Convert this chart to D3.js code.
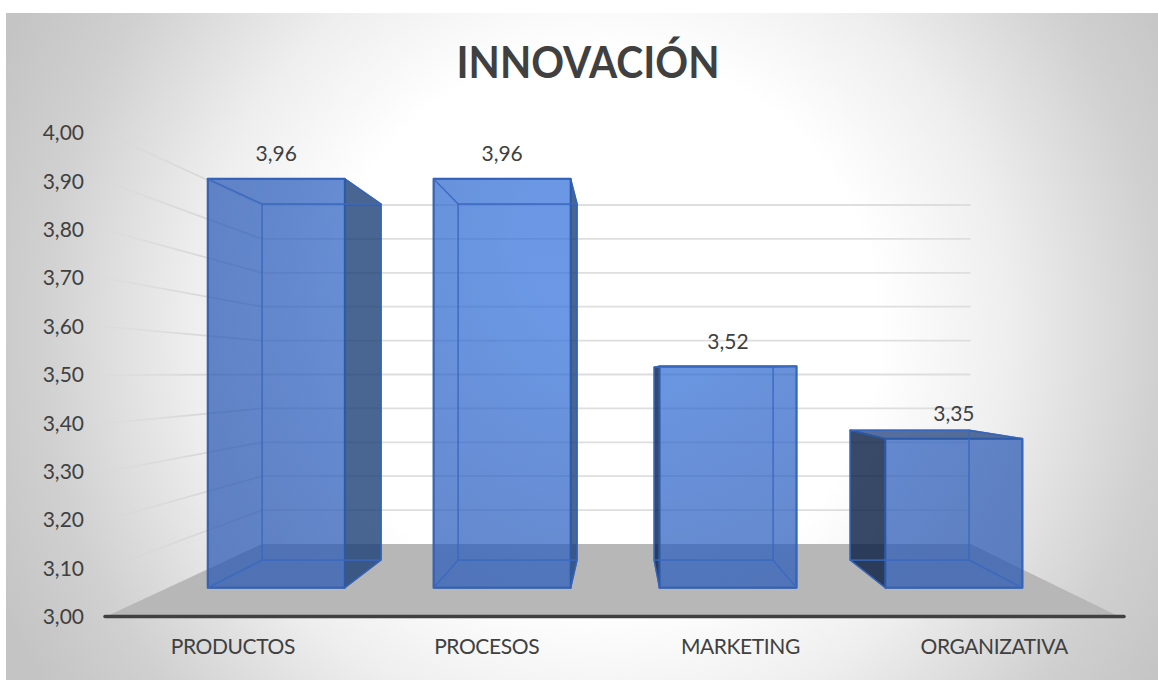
<!DOCTYPE html>
<html>
<head>
<meta charset="utf-8">
<style>
  html, body { margin: 0; padding: 0; background: #fff; }
  svg { display: block; }
  text { font-family: Lato, "Open Sans", sans-serif; }
</style>
<script src="https://cdn.jsdelivr.net/npm/d3@7"></script>
</head>
<body>
<svg id="chart" width="1158" height="680"></svg>
<script>
const chartTitle = "INNOVACIÓN";
const categories = ["PRODUCTOS", "PROCESOS", "MARKETING", "ORGANIZATIVA"];
const values = [3.96, 3.96, 3.52, 3.35];
const valueDomain = [3, 4];
const valueTicks = [3, 3.1, 3.2, 3.3, 3.4, 3.5, 3.6, 3.7, 3.8, 3.9, 4];

const svg = d3.select("#chart");
const es = d3.formatLocale({ decimal: ",", thousands: ".", grouping: [3], currency: ["", " €"] });
const fmt = es.format(".2f");

// Box of the 3D plot: front edge and back edge of the floor, in screen space.
const front = { left: 105, right: 1120, floor: 617, top: 133 };
const back  = { left: 262, right: 967,  floor: 544, top: 205 };
const barDepth = { near: 0.40, far: 0.78 };
const wallOverhang = 1.005; // floor and gridlines run slightly past the last bar plane

const lerp = d3.interpolateNumber;
const frontY = d3.scaleLinear().domain(valueDomain).range([front.floor, front.top]);
const backY  = d3.scaleLinear().domain(valueDomain).range([back.floor, back.top]);
const frontX = d3.scaleBand().domain(categories).range([front.left + 1, front.right + 1]);
const band01 = d3.scaleBand().domain(categories).range([-0.005, 1.009]).paddingInner(0.393).paddingOuter(0.1965);

// Projects (fraction across, value, depth) to the screen.
function project(u, v, d) {
  const xl = lerp(front.left, back.left)(d);
  const xr = lerp(front.right, back.right)(d);
  return [lerp(xl, xr)(u), lerp(frontY(v), backY(v))(d)];
}

const defs = svg.append("defs");
const bg = defs.append("radialGradient").attr("id", "bgGrad")
  .attr("gradientUnits", "userSpaceOnUse")
  .attr("cx", 600).attr("cy", 330).attr("r", 660);
[[0, "#ffffff"], [0.42, "#ffffff"], [0.62, "#eeeeee"], [0.85, "#d0d0d0"], [1, "#c4c4c4"]]
  .forEach(([o, c]) => bg.append("stop").attr("offset", o).attr("stop-color", c));

// Front faces read lighter toward the middle of the plot
const faceGrad = defs.append("radialGradient").attr("id", "faceGrad")
  .attr("gradientUnits", "userSpaceOnUse")
  .attr("cx", 620).attr("cy", 250).attr("r", 450);
[[0.2, "#3270da"], [0.75, "#2a5cbc"], [1, "#2858b4"]]
  .forEach(([o, c]) => faceGrad.append("stop").attr("offset", o).attr("stop-color", c));

function fadeGrad(id, y1, y2) {
  const g = defs.append("linearGradient").attr("id", id)
    .attr("gradientUnits", "userSpaceOnUse")
    .attr("x1", front.left).attr("y1", y1).attr("x2", back.left).attr("y2", y2);
  g.append("stop").attr("offset", 0).attr("stop-color", "#d6d6d6").attr("stop-opacity", 0.2);
  g.append("stop").attr("offset", 0.6).attr("stop-color", "#d6d6d6").attr("stop-opacity", 0.9);
  g.append("stop").attr("offset", 1).attr("stop-color", "#d9d9d9").attr("stop-opacity", 1);
}

// Chart area
svg.append("rect")
  .attr("x", 6).attr("y", 13).attr("width", 1152).attr("height", 667)
  .attr("fill", "url(#bgGrad)");

// Title
svg.append("text").text(chartTitle)
  .attr("x", 588).attr("y", 78).attr("text-anchor", "middle")
  .attr("font-size", 44).attr("font-weight", 700).attr("fill", "#404040")
  .attr("textLength", 263).attr("lengthAdjust", "spacingAndGlyphs");

// Floor
const line = d3.line();
const floorPts = [project(0, 3, 0), project(1, 3, 0), project(wallOverhang, 3, 1), project(0, 3, 1)];
svg.append("path").attr("d", line(floorPts) + "Z").attr("fill", "#b7b7b7");

// Gridlines: on the left wall, then along the back wall
const grid = svg.append("g").attr("fill", "none").attr("stroke-width", 1.8);
valueTicks.filter(v => v > 3).forEach((v, i) => {
  const a = project(0, v, 0), b = project(0, v, 1), c = project(wallOverhang, v, 1);
  fadeGrad("wall" + i, a[1], b[1]);
  grid.append("path").attr("d", line([a, b])).attr("stroke", `url(#wall${i})`);
  grid.append("path").attr("d", line([b, c])).attr("stroke", "#dedede");
});

// Bars, as translucent boxes
svg.append("g").selectAll("g").data(categories.map((c, i) => ({ c, v: values[i] })))
  .join("g").each(function (d) {
    const g = d3.select(this);
    const u0 = band01(d.c), u1 = u0 + band01.bandwidth();
    const n = barDepth.near, f = barDepth.far;
    const P = project;
    const inner = "#3a6ac0", outer = "#2d5aa8";
    const face = (pts, fill, op, stroke, sw, strokeOp = 1) => g.append("path").attr("d", line(pts) + "Z")
      .attr("fill", fill).attr("fill-opacity", op)
      .attr("stroke", stroke).attr("stroke-width", sw).attr("stroke-opacity", strokeOp)
      .attr("stroke-linejoin", "round");
    const rightOuter = P(u1, 3, f)[0] > P(u1, 3, n)[0];
    const leftOuter = P(u0, 3, f)[0] < P(u0, 3, n)[0];
    const lidOuter = P(u0, d.v, f)[1] < P(u0, d.v, n)[1];
    const leftFace = [P(u0, 3, n), P(u0, 3, f), P(u0, d.v, f), P(u0, d.v, n)];
    const rightFace = [P(u1, 3, n), P(u1, 3, f), P(u1, d.v, f), P(u1, d.v, n)];
    const lid = [P(u0, d.v, n), P(u1, d.v, n), P(u1, d.v, f), P(u0, d.v, f)];
    // Outer sides, darker
    if (rightOuter) face(rightFace, "#1b4078", 0.8, outer, 1.4);
    if (leftOuter) face(leftFace, "#071d44", 0.8, outer, 1.4);
    if (lidOuter) face(lid, "#1f3f7c", 0.75, outer, 1.3);
    // Front
    face([P(u0, 3, n), P(u1, 3, n), P(u1, d.v, n), P(u0, d.v, n)], "url(#faceGrad)", 0.72, outer, 2);
    // Hidden edges, seen through the front
    face([P(u0, 3, n), P(u1, 3, n), P(u1, 3, f), P(u0, 3, f)], "none", 0, inner, 1.3, 0.7);
    face([P(u0, 3, f), P(u1, 3, f), P(u1, d.v, f), P(u0, d.v, f)], "none", 0, inner, 1.3, 0.7);
    if (!leftOuter) face(leftFace, "none", 0, inner, 1.3, 0.7);
    if (!rightOuter) face(rightFace, "none", 0, inner, 1.3, 0.7);
    if (!lidOuter) face(lid, "none", 0, inner, 1.3, 0.7);
  });

// Value labels above each bar
svg.append("g").selectAll("text").data(categories)
  .join("text")
  .attr("x", c => project(band01(c) + band01.bandwidth() / 2, 3, barDepth.near)[0])
  .attr("y", (c, i) => project(0, values[i], barDepth.near)[1] - 25)
  .attr("dy", "0.35em").attr("text-anchor", "middle")
  .attr("font-size", 21).attr("fill", "#404040")
  .text((c, i) => fmt(values[i]));

// Value axis
const yAxis = svg.append("g").attr("transform", "translate(84,0)")
  .call(d3.axisLeft(frontY).tickValues(valueTicks).tickFormat(fmt).tickSize(0).tickPadding(0));
yAxis.select(".domain").remove();
yAxis.selectAll("text").attr("font-size", 21).attr("fill", "#404040").style("font-family", "Lato, sans-serif");

// Baseline and category axis
svg.append("line").attr("x1", front.left).attr("x2", 1124)
  .attr("y1", front.floor - 0.5).attr("y2", front.floor - 0.5)
  .attr("stroke", "#404040").attr("stroke-width", 3.5).attr("stroke-linecap", "round");
const xAxis = svg.append("g").attr("transform", `translate(0,${front.floor + 22})`)
  .call(d3.axisBottom(frontX).tickSize(0).tickPadding(0));
xAxis.select(".domain").remove();
xAxis.selectAll("text").attr("font-size", 21).attr("fill", "#404040")
  .style("font-family", "Lato, sans-serif").style("letter-spacing", "-0.4px");
</script>
</body>
</html>
